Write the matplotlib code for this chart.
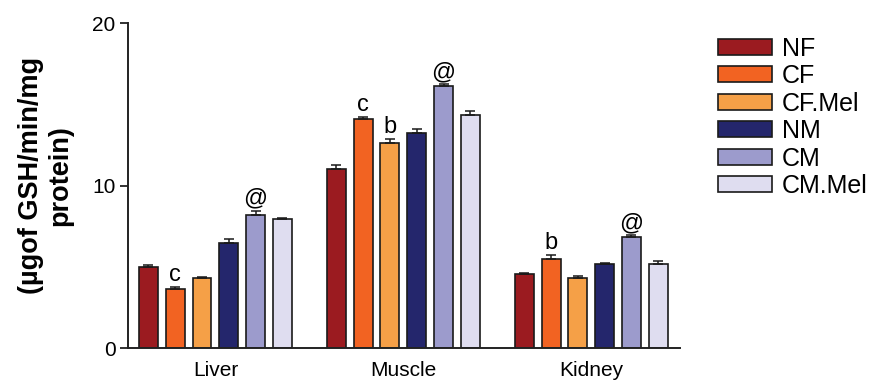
import numpy as np
import matplotlib
matplotlib.use('Agg')
import matplotlib.pyplot as plt

plt.rcParams['font.family'] = ['Liberation Sans', 'DejaVu Sans']

tissues = ['Liver', 'Muscle', 'Kidney']
groups = ['NF', 'CF', 'CF.Mel', 'NM', 'CM', 'CM.Mel']
colors = ['#9b1b20', '#f26322', '#f5a047', '#24266c', '#9c9bcc', '#dfddf0']

# mean values per group, one list per group (Liver, Muscle, Kidney)
nf = [5.0, 11.0, 4.53]
cf = [3.65, 14.1, 5.46]
cf_mel = [4.3, 12.63, 4.33]
nm = [6.46, 13.25, 5.15]
cm = [8.2, 16.1, 6.85]
cm_mel = [7.93, 14.36, 5.17]

nf_err = [0.1, 0.25, 0.1]
cf_err = [0.12, 0.1, 0.25]
cf_mel_err = [0.08, 0.25, 0.1]
nm_err = [0.25, 0.2, 0.06]
cm_err = [0.25, 0.12, 0.1]
cm_mel_err = [0.05, 0.2, 0.2]

values = [nf, cf, cf_mel, nm, cm, cm_mel]
errors = [nf_err, cf_err, cf_mel_err, nm_err, cm_err, cm_mel_err]

# significance letters: (group index, tissue index, text)
marks = [(1, 0, 'c'), (4, 0, '@'),
         (1, 1, 'c'), (2, 1, 'b'), (4, 1, '@'),
         (1, 2, 'b'), (4, 2, '@')]

fig = plt.figure(figsize=(8.81, 3.81), dpi=100)
ax = fig.add_axes([0.1453, 0.0866, 0.772 - 0.1453, 0.9396 - 0.0866])

x = np.arange(len(tissues))
pitch = 0.1426
width = 0.101
for i, g in enumerate(groups):
    pos = x + (i - 2.5) * pitch
    ax.bar(pos, values[i], width, color=colors[i], edgecolor='#1a1a1a',
           linewidth=1.2, label=g, zorder=2)
    ax.errorbar(pos, values[i], yerr=[np.zeros(3), errors[i]], fmt='none',
                ecolor='#1a1a1a', elinewidth=1.1, capsize=3.5, capthick=1.1,
                zorder=3)

for gi, ti, txt in marks:
    pos = x[ti] + (gi - 2.5) * pitch
    top = values[gi][ti] + errors[gi][ti]
    ax.text(pos, top + 0.05, txt, ha='center', va='bottom', fontsize=17)

ax.set_xlim(-0.465, 2.473)
ax.set_ylim(0, 20)
ax.set_yticks([0, 10, 20])
ax.set_xticks(x)
ax.set_xticklabels(tissues, fontsize=15)
ax.tick_params(axis='y', labelsize=15, length=6, width=1.3, color='#222222',
               pad=3)
ax.tick_params(axis='x', length=0, pad=9)
for s in ['top', 'right']:
    ax.spines[s].set_visible(False)
for s in ['left', 'bottom']:
    ax.spines[s].set_linewidth(1.4)
    ax.spines[s].set_color('#222222')

ax.set_ylabel('(µgof GSH/min/mg\nprotein)', fontsize=19.5, fontweight='bold',
              linespacing=1.15)
ax.yaxis.set_label_coords(-0.1, 0.532)

fig.legend(loc='upper left', bbox_to_anchor=(0.804, 0.93), frameon=False,
           fontsize=18, handlelength=2.15, handleheight=0.6,
           labelspacing=0.14, handletextpad=0.4, borderaxespad=0)

fig.savefig('out.png', dpi=100)
